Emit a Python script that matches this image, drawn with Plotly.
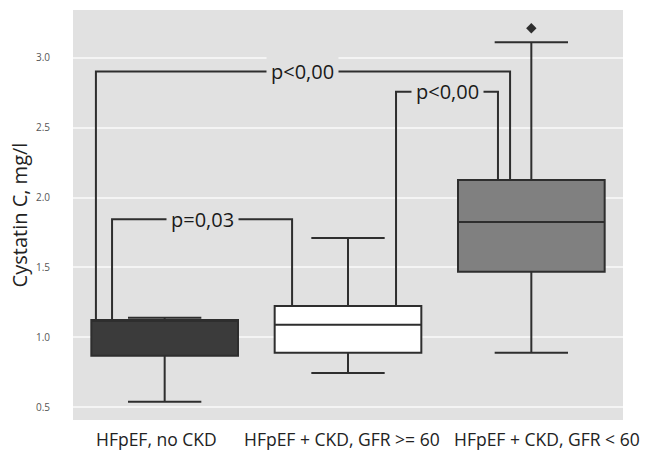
import plotly.graph_objects as go

# ---- data ----
groups = ["HFpEF, no CKD", "HFpEF + CKD, GFR >= 60", "HFpEF + CKD, GFR < 60"]
q1 = [0.87, 0.89, 1.47]
median = [1.12, 1.09, 1.825]
q3 = [1.125, 1.225, 2.125]
lowerfence = [0.54, 0.745, 0.89]
upperfence = [1.14, 1.71, 3.11]
fills = ["#3b3b3b", "#ffffff", "#808080"]
outlier_group = [2]
outlier_value = [3.21]

y_ticks = [0.5, 1.0, 1.5, 2.0, 2.5, 3.0]

# brackets: (left group, right group, height, left x offset, right x offset, label)
brackets = [
    (0, 1, 1.845, -0.287, -0.305, "p=0,03"),
    (0, 2, 2.90, -0.375, -0.116, "p<0,00"),
    (1, 2, 2.755, 0.262, -0.182, "p<0,00"),
]

# category label pixel nudges (style)
label_shift = [-8, -6, 16]

BG = "#e1e1e1"
LINE = "#2e2e2e"

fig = go.Figure()
for i, g in enumerate(groups):
    fig.add_trace(go.Box(
        x=[i], q1=[q1[i]], median=[median[i]], q3=[q3[i]],
        lowerfence=[lowerfence[i]], upperfence=[upperfence[i]],
        width=0.8, whiskerwidth=0.5,
        fillcolor=fills[i], line=dict(color=LINE, width=2),
        boxpoints=False, showlegend=False, name=g, hoverinfo="skip",
    ))

fig.add_trace(go.Scatter(
    x=outlier_group, y=outlier_value, mode="markers",
    marker=dict(symbol="diamond", size=8, color=LINE),
    showlegend=False, hoverinfo="skip",
))

for a, b, h, ox_a, ox_b, lab in brackets:
    xa = a + ox_a
    xb = b + ox_b
    fig.add_shape(type="path",
                  path=f"M {xa},{q3[a]} L {xa},{h} L {xb},{h} L {xb},{q3[b]}",
                  xref="x", yref="y", line=dict(color=LINE, width=2))
    fig.add_annotation(x=(xa + xb) / 2, y=h, text=lab, showarrow=False,
                       xref="x", yref="y",
                       font=dict(family="Open Sans", size=20, color="#1a1a1a"),
                       bgcolor=BG, borderpad=4)

for i, g in enumerate(groups):
    fig.add_annotation(x=i, y=0, xref="x", yref="paper", text=g,
                       showarrow=False, xanchor="center", yanchor="top",
                       yshift=-5, xshift=label_shift[i],
                       font=dict(family="Open Sans", size=17.5, color="#222"))

fig.update_layout(
    width=650, height=453,
    margin=dict(l=73, r=27, t=10, b=33, autoexpand=False),
    paper_bgcolor="white", plot_bgcolor=BG,
    font=dict(family="Open Sans", color="#222"),
)
fig.update_xaxes(
    range=[-0.5, 2.5], tickvals=[0, 1, 2], showticklabels=False,
    showgrid=False, zeroline=False, showline=False, automargin=False,
    ticks="",
)
fig.update_yaxes(
    range=[0.41, 3.34], tickvals=y_ticks,
    ticktext=[f"{v:.1f}" for v in y_ticks], automargin=False,
    showgrid=True, gridcolor="#f4f4f4", gridwidth=2, zeroline=False,
    tickfont=dict(size=10, color="#555"), ticks="", ticklabelstandoff=22,
    title=dict(text="Cystatin C, mg/l", font=dict(size=20, color="#222"), standoff=2),
)

fig.write_html("out.html")
